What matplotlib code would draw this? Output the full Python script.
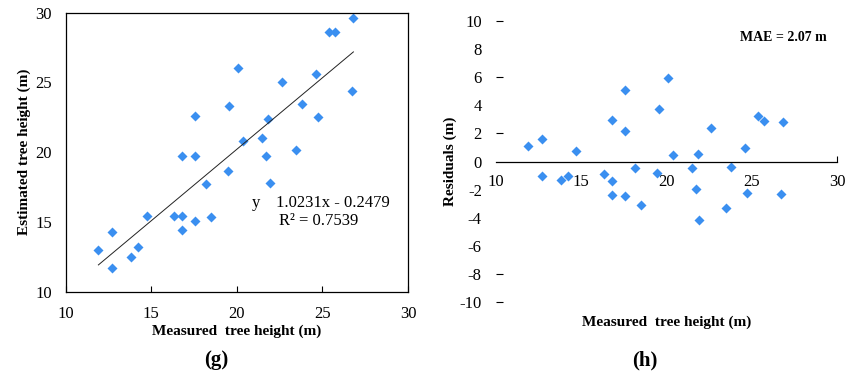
import matplotlib.pyplot as plt
import numpy as np

# measured vs estimated tree height (m)
measured = [11.91, 12.69, 12.73, 13.83, 14.24, 14.73, 16.34, 16.81, 16.81, 16.81,
            17.57, 17.55, 17.55, 18.17, 18.50, 19.47, 19.55, 20.08, 20.37, 21.48,
            21.73, 21.83, 21.93, 22.63, 23.48, 23.81, 24.63, 24.73, 25.37, 25.74,
            26.71, 26.81]
estimated = [13.03, 14.31, 11.69, 12.50, 13.19, 15.46, 15.46, 15.46, 14.46, 19.75,
             19.73, 15.08, 22.61, 17.70, 15.39, 18.63, 23.30, 26.04, 20.82, 20.99,
             19.75, 22.37, 17.80, 25.00, 20.16, 23.45, 25.62, 22.51, 28.59, 28.64,
             24.40, 29.62]
slope, intercept = 1.0231, -0.2479

xticks = [10, 15, 20, 25, 30]
yticks_left = [10, 15, 20, 25, 30]
yticks_right = [10, 8, 6, 4, 2, 0, -2, -4, -6, -8, -10]
dash_ticks = [10, 6, 2, -8, -10]  # only these show a tick dash in the original

x = np.array(measured)
y = np.array(estimated)
resid = y - x

plt.rcParams['font.family'] = ['Liberation Serif', 'DejaVu Serif']
plt.rcParams['axes.unicode_minus'] = False
blue = '#3a8ff0'

fig = plt.figure(figsize=(8.5, 3.77), dpi=100)

# (g) scatter with trend line
ax1 = fig.add_axes([0.0773, 0.2255, 0.4027, 0.7413])
ax1.plot(x, y, 'D', color=blue, ms=5, mec='none')
xl = np.array([x.min(), x.max()])
ax1.plot(xl, slope * xl + intercept, color='#222222', lw=0.7)
ax1.set_xlim(10, 30)
ax1.set_ylim(10, 30)
ax1.set_xticks(xticks)
ax1.set_yticks(yticks_left)
ax1.tick_params(axis='x', direction='in', length=4, pad=10, labelsize=12)
ax1.tick_params(axis='y', length=0, pad=10, labelsize=12)
for sp in ax1.spines.values():
    sp.set_linewidth(0.9)
ax1.set_xlabel('Measured  tree height (m)', fontsize=11, fontweight='bold', labelpad=2)
ax1.set_ylabel('Estimated tree height (m)', fontsize=11, fontweight='bold', labelpad=3)
ax1.text(0.545, 0.305, 'y', transform=ax1.transAxes, fontsize=12)
ax1.text(0.615, 0.305, '1.0231x - 0.2479', transform=ax1.transAxes, fontsize=12)
ax1.text(0.622, 0.24, 'R² = 0.7539', transform=ax1.transAxes, fontsize=12)

# (h) residuals
ax2 = fig.add_axes([0.5832, 0.1981, 0.4015, 0.7470])
ax2.plot(x, resid, 'D', color=blue, ms=5, mec='none')
ax2.set_xlim(10, 30)
ax2.set_ylim(-10, 10)
for s in ['left', 'right', 'top']:
    ax2.spines[s].set_visible(False)
ax2.spines['bottom'].set_position(('data', 0))
ax2.spines['bottom'].set_linewidth(0.9)
ax2.set_xticks(xticks)
ax2.set_yticks(yticks_right)
ax2.tick_params(axis='x', direction='in', length=4, pad=9, labelsize=12)
ax2.tick_params(axis='y', direction='in', length=5, width=0.8, pad=10, labelsize=12)
for t in ax2.xaxis.get_major_ticks()[:-1]:
    t.tick1line.set_visible(False)
for v, t in zip(yticks_right, ax2.yaxis.get_major_ticks()):
    if v not in dash_ticks:
        t.tick1line.set_visible(False)
ax2.set_ylabel('Residuals (m)', fontsize=11, fontweight='bold', labelpad=2)
ax2.text(0.5, -0.072, 'Measured  tree height (m)', transform=ax2.transAxes,
         fontsize=11, fontweight='bold', ha='center', va='center')
ax2.text(0.97, 0.94, 'MAE = 2.07 m', transform=ax2.transAxes, fontsize=10,
         fontweight='bold', ha='right', va='center')

fig.text(216 / 850, 1 - 360 / 377, '(g)', fontsize=15, fontweight='bold', ha='center', va='center')
fig.text(645 / 850, 1 - 360 / 377, '(h)', fontsize=15, fontweight='bold', ha='center', va='center')

fig.savefig('out.png', dpi=100)
